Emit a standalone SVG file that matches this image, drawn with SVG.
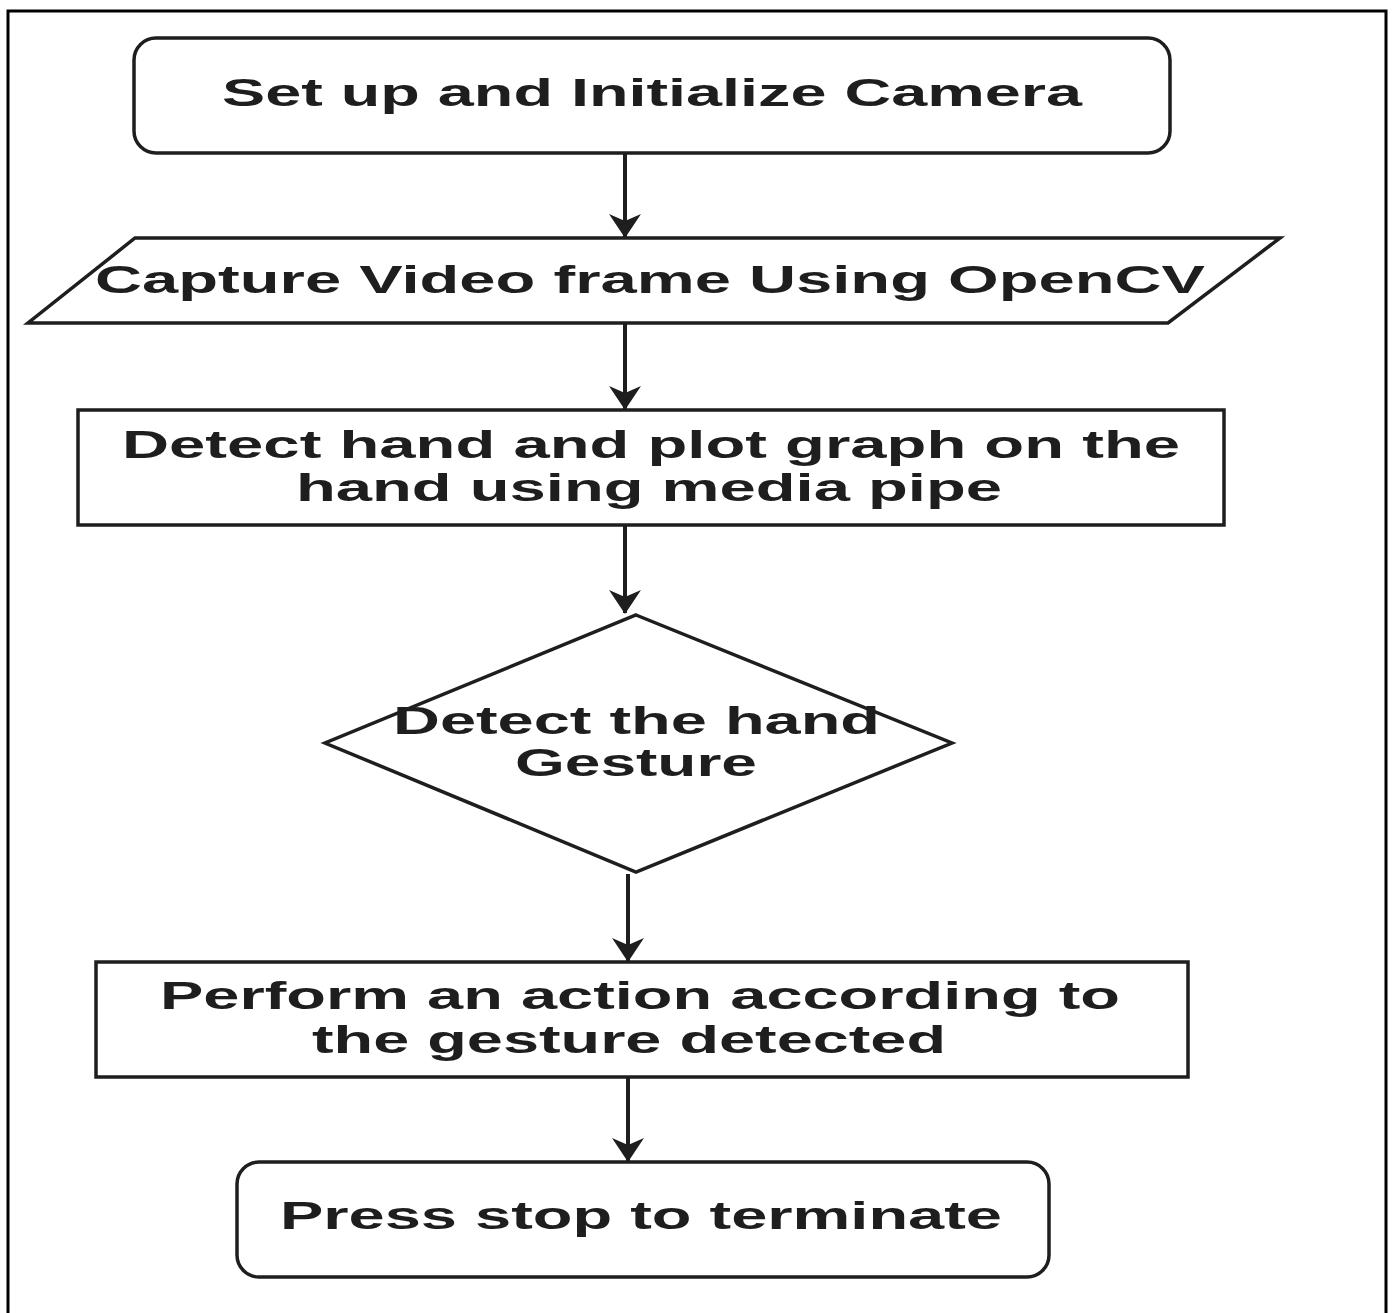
<svg xmlns="http://www.w3.org/2000/svg" width="1393" height="1313" viewBox="0 0 1393 1313">
<style>
.s{fill:#fff;stroke:#1e1e1e;stroke-width:3.5}
.t{font-family:"Liberation Sans",Arial,sans-serif;font-weight:bold;font-size:39px;fill:#1e1e1e}
.c{stroke:#1e1e1e;stroke-width:4;fill:none;marker-end:url(#ah)}
</style>
<defs>
<marker id="ah" viewBox="0 0 24 32" refX="23" refY="16" markerWidth="24" markerHeight="32" markerUnits="userSpaceOnUse" orient="auto">
<path d="M0,0 L24,16 L0,32 L7,16 Z" fill="#1e1e1e"/>
</marker>
</defs>
<rect x="0" y="0" width="1393" height="1313" fill="#fff"/>
<rect x="8" y="11" width="1378" height="1310" fill="none" stroke="#000" stroke-width="3"/>
<g id="connectors">
<line class="c" x1="625" y1="153" x2="625" y2="237"/>
<line class="c" x1="625" y1="323" x2="625" y2="409"/>
<line class="c" x1="625" y1="525" x2="625" y2="613"/>
<line class="c" x1="628" y1="874" x2="628" y2="961"/>
<line class="c" x1="628" y1="1077" x2="628" y2="1161"/>
</g>
<g id="n1">
<rect class="s" x="134" y="38" width="1036" height="115" rx="22"/>
<text class="t" x="222" y="106" textLength="860" lengthAdjust="spacingAndGlyphs">Set up and Initialize Camera</text>
</g>
<g id="n2">
<polygon class="s" points="135,238 1280,238 1168,323 28,323"/>
<text class="t" x="95" y="293" textLength="1110" lengthAdjust="spacingAndGlyphs">Capture Video frame Using OpenCV</text>
</g>
<g id="n3">
<rect class="s" x="78" y="410" width="1146" height="115"/>
<text class="t" x="122" y="458" textLength="1058" lengthAdjust="spacingAndGlyphs">Detect hand and plot graph on the</text>
<text class="t" x="296" y="501" textLength="706" lengthAdjust="spacingAndGlyphs">hand using media pipe</text>
</g>
<g id="n4">
<polygon class="s" points="636,615 952,743 636,872 325,743"/>
<text class="t" x="393" y="734" textLength="487" lengthAdjust="spacingAndGlyphs">Detect the hand</text>
<text class="t" x="515" y="776" textLength="242" lengthAdjust="spacingAndGlyphs">Gesture</text>
</g>
<g id="n5">
<rect class="s" x="96" y="962" width="1092" height="115"/>
<text class="t" x="160" y="1009" textLength="960" lengthAdjust="spacingAndGlyphs">Perform an action according to</text>
<text class="t" x="312" y="1053" textLength="634" lengthAdjust="spacingAndGlyphs">the gesture detected</text>
</g>
<g id="n6">
<rect class="s" x="237" y="1162" width="812" height="115" rx="22"/>
<text class="t" x="280" y="1229" textLength="722" lengthAdjust="spacingAndGlyphs">Press stop to terminate</text>
</g>
</svg>
